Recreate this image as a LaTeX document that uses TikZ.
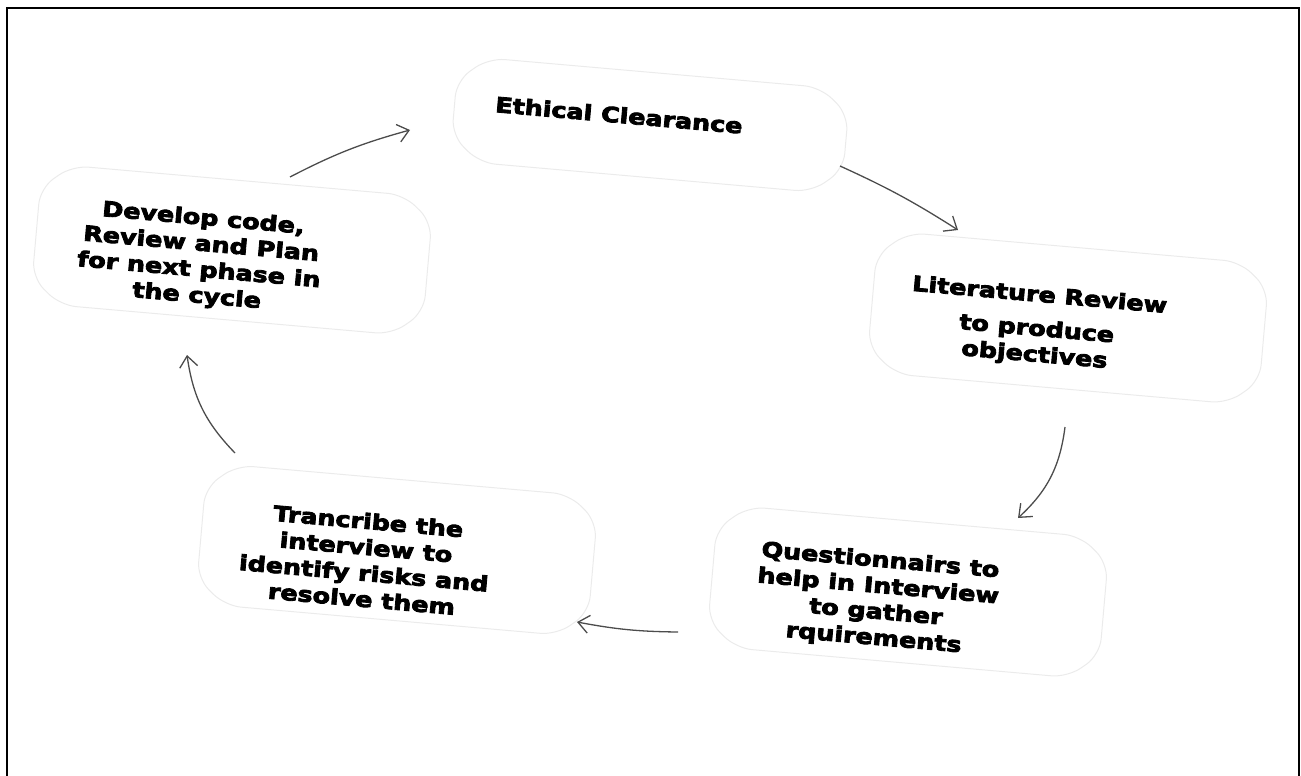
\documentclass[tikz,border=0pt]{standalone}
\usepackage{fontspec}
\newfontfamily\labfont{DejaVu Sans}[FakeStretch=1.21, BoldFeatures={FakeBold=4}]
\usetikzlibrary{arrows.meta}
\tikzset{
  blob/.style={rectangle, rotate=-5, minimum width=393pt, inner sep=0pt, draw=none},
  outline/.style={draw=black!8, line width=1pt, rounded corners=16pt},
  lab/.style={rotate=-5, align=center, inner sep=0pt,
    font=\labfont\bfseries\fontsize{21}{26}\selectfont},
  arr/.style={draw=black!70, line width=1.3pt, -{Straight Barb[length=11pt,width=18pt]}},
  frame/.style={line width=2.4pt, black}
}
\begin{document}
\begin{tikzpicture}[x=1pt,y=1pt]
\useasboundingbox (0,0) rectangle (1301,-776);
\draw[frame] (7,-776) -- (7,-8) -- (1299,-8) -- (1299,-776);

\node[blob, minimum height=105pt] (ec)  at (650,-125) {};
\node[blob, minimum height=142pt] (lit) at (1068,-318) {};
\node[blob, minimum height=142pt] (qu)  at (908,-592) {};
\node[blob, minimum height=141pt] (tr)  at (397,-550) {};
\node[blob, minimum height=140pt] (dev) at (232,-250) {};

\foreach \n/\h in {ec/52.5,lit/71,qu/71,tr/70.5,dev/70}{
  \begin{scope}[shift={(\n.center)}, rotate=-5]
    \draw[outline] (-166.5,\h) -- (166.5,\h) -- (196.5,\h-25) -- (196.5,-\h+25)
      -- (166.5,-\h) -- (-166.5,-\h) -- (-196.5,-\h+25) -- (-196.5,\h-25) -- cycle;
  \end{scope}
}

\node[lab] (ect)  at (619,-115) {Ethical Clearance};
\node[lab] (litt) at (1037,-326) {Literature Review\\[8pt] to produce\\ objectives};
\node[lab] (qut)  at (877,-600) {Questionnairs to\\ help in Interview\\ to gather\\ rquirements};
\node[lab] (trt)  at (365,-560) {Trancribe the\\ interview to\\ identify risks and\\ resolve them};
\node[lab] (devt) at (200,-258) {Develop code,\\ Review and Plan\\ for next phase in\\ the cycle};

\draw[arr] ([shift={(58,73)}]dev.center) to[bend left=6] ([shift={(-240,-5)}]ec.center);
\draw[arr] ([shift={(190,-41)}]ec.center) to[bend left=4] ([shift={(-110,88)}]lit.center);
\draw[arr] ([shift={(-3,-109)}]lit.center) to[bend left=20] ([shift={(110,74)}]qu.center);
\draw[arr] ([shift={(-230,-40)}]qu.center) to[bend left=5] ([shift={(180,-72)}]tr.center);
\draw[arr] ([shift={(-162,97)}]tr.center) to[bend left=18] ([shift={(-45,-105)}]dev.center);
\end{tikzpicture}
\end{document}
